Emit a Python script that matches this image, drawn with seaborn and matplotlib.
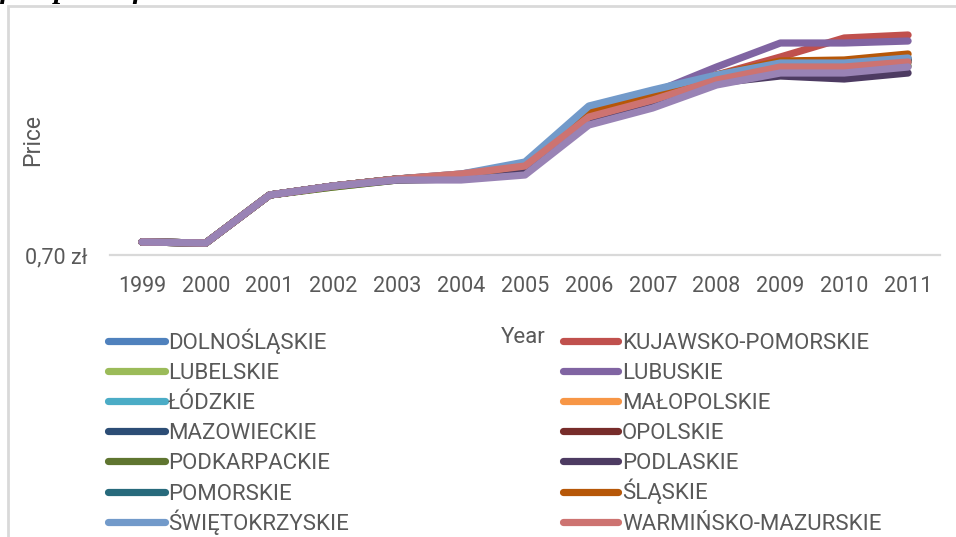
import pandas as pd
import numpy as np
import matplotlib
matplotlib.use('Agg')
import matplotlib.pyplot as plt
from matplotlib.lines import Line2D
from matplotlib.patches import Rectangle
import seaborn as sns

sns.set_style('white')
plt.rcParams['font.family'] = ['Roboto', 'DejaVu Sans']

# Data (price in zł)
years = [1999, 2000, 2001, 2002, 2003, 2004, 2005, 2006, 2007, 2008, 2009, 2010, 2011]

regions = ['DOLNOŚLĄSKIE', 'KUJAWSKO-POMORSKIE', 'LUBELSKIE', 'LUBUSKIE', 'ŁÓDZKIE',
           'MAŁOPOLSKIE', 'MAZOWIECKIE', 'OPOLSKIE', 'PODKARPACKIE', 'PODLASKIE',
           'POMORSKIE', 'ŚLĄSKIE', 'ŚWIĘTOKRZYSKIE', 'WARMIŃSKO-MAZURSKIE', 'WIELKOPOLSKIE']

dolnoslaskie = [0.83, 0.82, 1.30, 1.39, 1.46, 1.50, 1.61, 2.17, 2.33, 2.50, 2.62, 2.62, 2.67]
kujawsko = [0.83, 0.82, 1.30, 1.39, 1.46, 1.51, 1.60, 2.14, 2.31, 2.50, 2.68, 2.87, 2.90]
lubelskie = [0.83, 0.82, 1.30, 1.38, 1.45, 1.47, 1.55, 2.10, 2.27, 2.46, 2.58, 2.58, 2.63]
lubuskie = [0.83, 0.82, 1.30, 1.39, 1.46, 1.48, 1.57, 2.12, 2.32, 2.58, 2.82, 2.82, 2.84]
lodzkie = [0.83, 0.82, 1.30, 1.39, 1.46, 1.50, 1.60, 2.16, 2.32, 2.49, 2.61, 2.61, 2.66]
malopolskie = [0.83, 0.82, 1.30, 1.39, 1.46, 1.49, 1.58, 2.12, 2.29, 2.48, 2.61, 2.61, 2.66]
mazowieckie = [0.83, 0.82, 1.30, 1.39, 1.46, 1.49, 1.58, 2.13, 2.30, 2.49, 2.60, 2.58, 2.63]
opolskie = [0.83, 0.82, 1.30, 1.39, 1.46, 1.49, 1.59, 2.12, 2.29, 2.48, 2.60, 2.60, 2.65]
podkarpackie = [0.83, 0.82, 1.30, 1.38, 1.45, 1.46, 1.53, 2.05, 2.22, 2.43, 2.54, 2.53, 2.59]
podlaskie = [0.83, 0.82, 1.30, 1.39, 1.45, 1.46, 1.52, 2.03, 2.20, 2.42, 2.49, 2.46, 2.52]
pomorskie = [0.83, 0.82, 1.30, 1.39, 1.46, 1.50, 1.60, 2.15, 2.31, 2.49, 2.60, 2.60, 2.65]
slaskie = [0.83, 0.82, 1.30, 1.39, 1.46, 1.50, 1.60, 2.14, 2.30, 2.50, 2.64, 2.65, 2.71]
swietokrzyskie = [0.83, 0.82, 1.30, 1.39, 1.46, 1.51, 1.63, 2.19, 2.35, 2.50, 2.62, 2.62, 2.67]
warminsko = [0.83, 0.82, 1.30, 1.39, 1.46, 1.51, 1.59, 2.08, 2.25, 2.45, 2.58, 2.58, 2.63]
wielkopolskie = [0.83, 0.82, 1.30, 1.39, 1.45, 1.45, 1.50, 2.00, 2.17, 2.40, 2.52, 2.52, 2.58]

series = [dolnoslaskie, kujawsko, lubelskie, lubuskie, lodzkie, malopolskie, mazowieckie,
          opolskie, podkarpackie, podlaskie, pomorskie, slaskie, swietokrzyskie, warminsko,
          wielkopolskie]

colors = ['#4F81BD', '#C0504D', '#9BBB59', '#8064A2', '#4BACC6', '#F79646', '#2C4D75',
          '#772C2A', '#5F7530', '#4D3B62', '#276A7C', '#B65708', '#729ACA', '#CD7371',
          '#9983B5']
palette = dict(zip(regions, colors))

df = pd.DataFrame({
    'Year': np.tile(years, len(regions)),
    'Region': np.repeat(regions, len(years)),
    'Price': np.concatenate(series),
})

text_col = '#595959'
lw = 5.2
W, H = 956, 537

fig = plt.figure(figsize=(9.56, 5.37), dpi=100)
ax = fig.add_axes([110 / W, 1 - 255 / H, 830 / W, 235 / H])

sns.lineplot(data=df, x='Year', y='Price', hue='Region', hue_order=regions,
             palette=palette, linewidth=lw, legend=False, ax=ax,
             solid_capstyle='round', solid_joinstyle='round')

ax.set_xlim(1998.5, 2011.5)
ax.set_ylim(0.70, 3.05)
ax.set_xticks(years)
ax.set_xticklabels([str(y) for y in years])
ax.set_yticks([0.70])
ax.set_yticklabels(['0,70 zł'])
ax.tick_params(axis='both', length=0, labelsize=15.5, labelcolor=text_col)
ax.tick_params(axis='x', pad=15)
ax.tick_params(axis='y', pad=16)

for side in ['top', 'right', 'left']:
    ax.spines[side].set_visible(False)
ax.spines['bottom'].set_color('#D9D9D9')
ax.spines['bottom'].set_linewidth(1.6)

ax.set_ylabel('Price', fontsize=16.5, color=text_col)
ax.yaxis.set_label_coords(-0.079, 0.49)
ax.set_xlabel('Year', fontsize=16, color=text_col)
ax.xaxis.set_label_coords(0.4976, -0.305)

# Legend, laid out row by row in two columns like the original;
# the last row (WIELKOPOLSKIE) falls below the picture edge
row0, row_step = 341, 30.1
cols = [(108, 165, 168), (563, 618, 622)]
for i, (name, c) in enumerate(zip(regions, colors)):
    row, col = divmod(i, 2)
    yc = row0 + row * row_step
    if yc > H:
        continue
    x1, x2, xt = cols[col]
    fig.add_artist(Line2D([x1 / W, x2 / W], [1 - yc / H, 1 - yc / H], color=c,
                          linewidth=lw, solid_capstyle='round',
                          transform=fig.transFigure))
    fig.text(xt / W, 1 - (yc + 8) / H, name, fontsize=16, color=text_col,
             ha='left', va='baseline')

# Chart frame
fig.patches.append(Rectangle((8 / W, -0.1), 1.2, 1 - 6 / H + 0.1,
                             transform=fig.transFigure, fill=False,
                             edgecolor='#D9D9D9', linewidth=2))

# Caption above, cut off by the picture edge
fig.text(0.0, 1 + 2 / H, 'fuel prices from 1999', family='Liberation Serif',
         style='italic', weight='bold', fontsize=21, va='baseline', ha='left',
         color='black')

fig.savefig('out.png', dpi=100)
